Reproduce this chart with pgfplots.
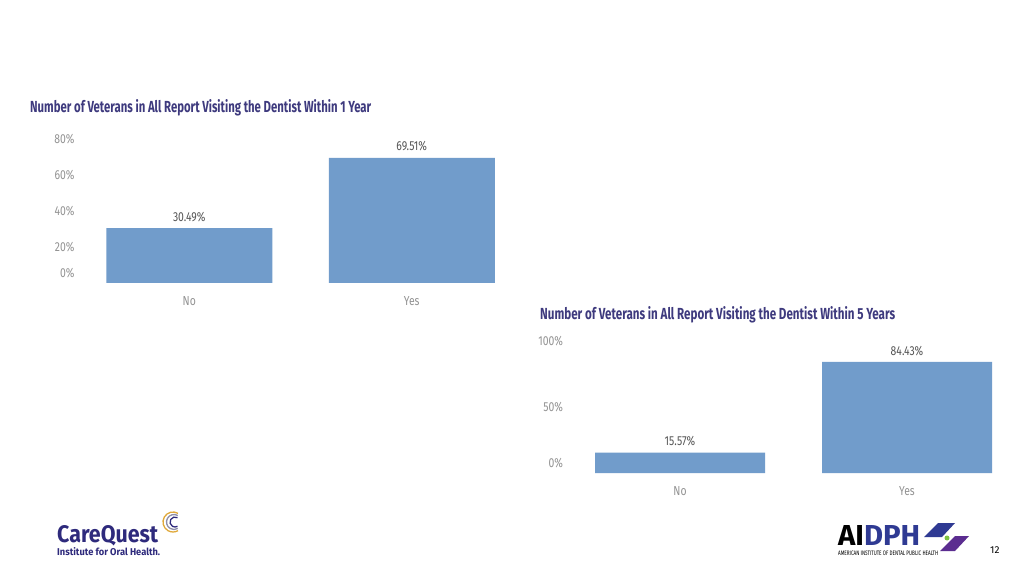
\documentclass[border=0pt]{standalone}
\usepackage{pgfplots}
\pgfplotsset{compat=1.18}
\usepackage{graphicx}
\usepackage{fontspec}
\setmainfont{Fira Sans}

\definecolor{barblue}{HTML}{719CCB}
\definecolor{titlepurple}{HTML}{3E3A7E}
\definecolor{tickgray}{HTML}{939393}
\definecolor{labelgray}{HTML}{555555}
\definecolor{cqnavy}{HTML}{2E2A7C}
\definecolor{aiblue}{HTML}{2F3A93}
\definecolor{aipurple}{HTML}{5B2D90}
\definecolor{aigreen}{HTML}{7DC242}

% condensed look of the Tableau font
\newcommand\cond[1]{\scalebox{0.8}[1]{#1}}

\pgfplotsset{
  slidebars/.style={
    scale only axis,
    anchor=south west,
    ybar,
    xmin=-0.5, xmax=1.5, ymin=0,
    xtick={0,1},
    xticklabels={\cond{No},\cond{Yes}},
    axis line style={draw=none},
    tick style={draw=none},
    major tick length=0pt,
    clip=false,
    ticklabel style={font=\fontsize{13}{13}\selectfont, text=tickgray},
    xticklabel style={yshift=-10pt},
    yticklabel={\cond{\pgfmathprintnumber{\tick}\%}},
    extra y ticks={0},
    extra y tick labels={\cond{0\%}},
    extra y tick style={yticklabel style={yshift=10pt}},
    nodes near coords={\cond{\pgfmathprintnumber[fixed,precision=2,fixed zerofill]{\pgfplotspointmeta}\%}},
    nodes near coords style={font=\fontsize{13}{13}\selectfont, text=labelgray, anchor=south, yshift=3pt},
    /pgf/number format/assume math mode=true,
  },
}

\begin{document}
\begin{tikzpicture}
\fill[white] (0,0) rectangle (1024pt,576pt);
\path[use as bounding box] (0,0) rectangle (1024pt,576pt);

% chart 1
\node[anchor=base west, inner sep=0, text=titlepurple] at (30pt,463pt)
  {\resizebox{341pt}{13pt}{\bfseries Number of Veterans in All Report Visiting the Dentist Within 1 Year}};
\begin{axis}[slidebars,
    at={(78pt,293pt)}, width=445pt, height=144pt,
    ymax=80, ytick={20,40,60,80}]
  \addplot[fill=barblue, draw=none, bar width=166pt] coordinates {(0,30.49) (1,69.51)};
\end{axis}

% chart 2
\node[anchor=base west, inner sep=0, text=titlepurple] at (540pt,256pt)
  {\resizebox{355pt}{13pt}{\bfseries Number of Veterans in All Report Visiting the Dentist Within 5 Years}};
\begin{axis}[slidebars,
    at={(566.5pt,103pt)}, width=454pt, height=131.5pt,
    ymax=100, ytick={50,100}]
  \addplot[fill=barblue, draw=none, bar width=170pt] coordinates {(0,15.57) (1,84.43)};
\end{axis}

% CareQuest logo
\node[anchor=base west, inner sep=0, text=cqnavy] at (57pt,34pt)
  {\resizebox{101pt}{17pt}{\bfseries CareQuest}};
\node[anchor=base west, inner sep=0, text=cqnavy] at (57pt,21pt)
  {\resizebox{103pt}{8pt}{\bfseries Institute for Oral Health.}};
\draw[line width=1.3pt, color={rgb,255:red,224;green,169;blue,59}] (173pt,54pt) ++(60:10pt) arc (60:300:10pt);
\draw[line width=1.3pt, color={rgb,255:red,143;green,143;blue,168}] (174pt,54pt) ++(60:7.5pt) arc (60:300:7.5pt);
\draw[line width=1.3pt, color=cqnavy] (175pt,54pt) ++(60:5pt) arc (60:300:5pt);

% AIDPH logo
\node[anchor=base west, inner sep=0] at (838pt,31pt)
  {\resizebox{82pt}{20pt}{\bfseries AI\textcolor{aiblue}{DPH}}};
\node[anchor=base west, inner sep=0] at (838pt,21pt)
  {\resizebox{100pt}{4.5pt}{AMERICAN INSTITUTE OF DENTAL PUBLIC HEALTH}};
\fill[aiblue] (924pt,39pt) -- (938pt,53pt) -- (955pt,53pt) -- (942pt,39pt) -- cycle;
\fill[aipurple] (940pt,25pt) -- (955pt,40pt) -- (969pt,40pt) -- (955pt,25pt) -- cycle;
\fill[aigreen] (947pt,38pt) circle (2.5pt);

% page number
\node[anchor=base west, inner sep=0, font=\fontsize{10}{10}\selectfont] at (990pt,23pt) {12};
\end{tikzpicture}
\end{document}
